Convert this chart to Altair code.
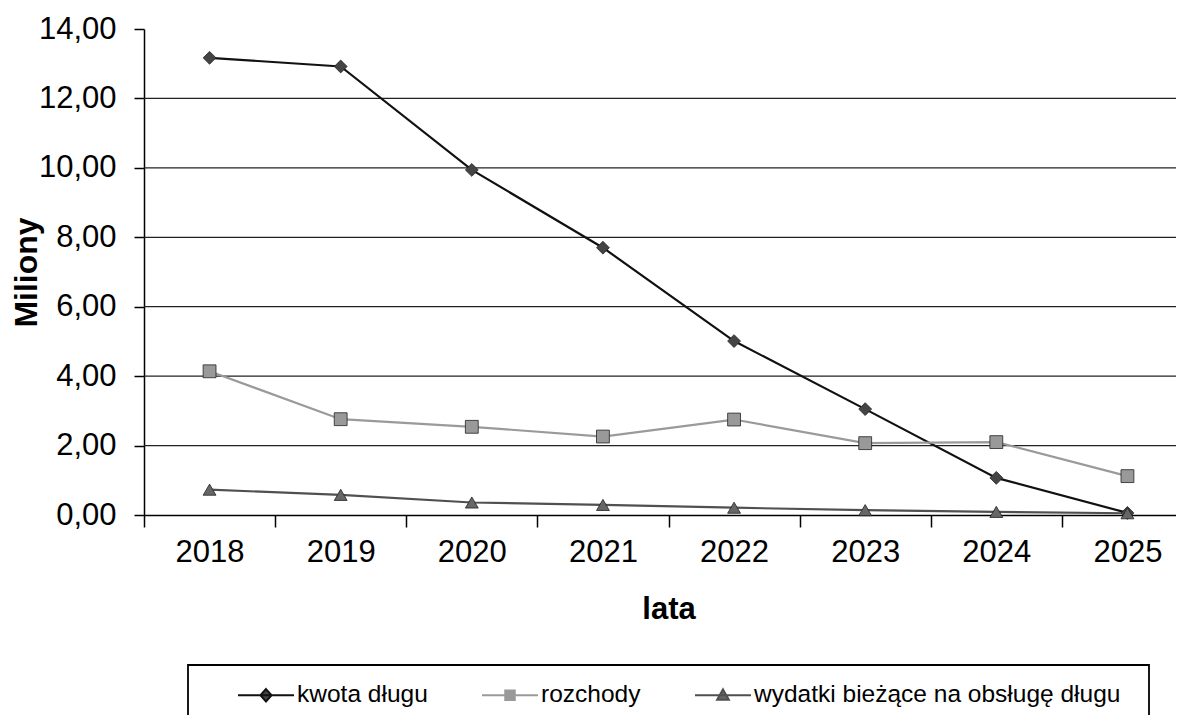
import altair as alt
import pandas as pd

years = ["2018", "2019", "2020", "2021", "2022", "2023", "2024", "2025"]
kwota = [13.17, 12.92, 9.94, 7.70, 5.01, 3.05, 1.07, 0.06]
rozchody = [4.14, 2.76, 2.54, 2.26, 2.75, 2.07, 2.10, 1.12]
wydatki = [0.73, 0.58, 0.36, 0.29, 0.21, 0.14, 0.09, 0.05]
series_names = ["kwota długu", "rozchody", "wydatki bieżące na obsługę długu"]
grid_values = [2, 4, 6, 8, 10, 12]
y_ticks = [0, 2, 4, 6, 8, 10, 12, 14]

line_colors = ["#111111", "#9a9a9a", "#505050"]
marker_fills = ["#444444", "#999999", "#666666"]
marker_shapes = ["diamond", "square", "triangle-up"]
legend_paths = [
    "M-1,0H1M0,-0.22L0.2,0L0,0.22L-0.2,0Z",
    "M-1,0H1M-0.17,-0.17H0.17V0.17H-0.17Z",
    "M-1,0H1M0,-0.21L0.21,0.16H-0.21Z",
]

rows = []
for name, vals in zip(series_names, [kwota, rozchody, wydatki]):
    for yr, v in zip(years, vals):
        rows.append({"year": yr, "series": name, "value": v})
df = pd.DataFrame(rows)
grid_df = pd.DataFrame({"value": grid_values})
frame_df = pd.DataFrame({"k": [0]})

W, H = 1032, 486
FONT = "Liberation Sans"

x_enc = alt.X(
    "year:O",
    bandPosition=0.5,
    scale=alt.Scale(type="band", paddingInner=0, paddingOuter=0, range=[0, 1049]),
    axis=alt.Axis(
        title="lata", tickBand="extent", labelAngle=0, labelFontSize=31,
        labelFont=FONT, labelColor="black", titleFont=FONT, titleFontSize=31,
        titleFontWeight="bold", titleColor="black", titlePadding=27,
        tickSize=12, tickColor="black", domainColor="black", domainWidth=1.5,
        tickWidth=1.5, labelPadding=10, grid=False,
    ),
)
y_scale = alt.Scale(domain=[0, 14], nice=False)
y_axis = alt.Axis(
    title="Miliony", values=y_ticks, grid=False,
    labelExpr="replace(format(datum.value, '.2f'), '.', ',')",
    labelFontSize=31, labelFont=FONT, labelColor="black",
    titleFont=FONT, titleFontSize=32, titleFontWeight="bold",
    titleColor="black", titlePadding=-5, tickSize=10, tickColor="black",
    domainColor="black", domainWidth=1.5, tickWidth=1.5, labelPadding=18,
)
y_enc = alt.Y("value:Q", scale=y_scale, axis=y_axis)

base = alt.Chart(df)

grid = alt.Chart(grid_df).mark_rule(color="#222222", strokeWidth=1.3).encode(
    y=y_enc,
    x=alt.value(0),
    x2=alt.value(1040),
)

series_layers = []
for name, shp, fc, lc in zip(series_names, marker_shapes, marker_fills, line_colors):
    sub = base.transform_filter(alt.datum.series == name)
    series_layers.append(sub.mark_line(strokeWidth=2.2, color=lc).encode(x=x_enc, y=y_enc))
for name, shp, fc, lc in zip(series_names, marker_shapes, marker_fills, line_colors):
    sub = base.transform_filter(alt.datum.series == name)
    series_layers.append(
        sub.mark_point(filled=True, size=165, shape=shp, fill=fc, stroke="#222222",
                       strokeWidth=0.8, opacity=1).encode(x=x_enc, y=y_enc)
    )

leg = alt.Legend(
    title=None, orient="none", legendX=93, legendY=637, direction="horizontal",
    padding=0, labelFont=FONT, zindex=2,
    labelFontSize=24.5, labelColor="black", symbolSize=3136, symbolStrokeWidth=2,
    columnPadding=50, labelOffset=2, labelLimit=600, symbolOpacity=1,
)

legend_layer = base.transform_filter("datum.value < -1000").mark_point(filled=True, opacity=1).encode(
    x=x_enc,
    y=y_enc,
    shape=alt.Shape("series:N", scale=alt.Scale(domain=series_names, range=legend_paths), legend=leg),
    fill=alt.Fill("series:N", scale=alt.Scale(domain=series_names, range=marker_fills), legend=leg),
    stroke=alt.Stroke("series:N", scale=alt.Scale(domain=series_names, range=line_colors), legend=leg),
)

frame = alt.Chart(frame_df).mark_rect(fill="transparent", stroke="black", strokeWidth=1.8).encode(
    x=alt.value(44), x2=alt.value(1005), y=alt.value(636), y2=alt.value(720),
)

chart = (
    alt.layer(grid, frame, *series_layers, legend_layer)
    .properties(width=W, height=H, padding={"left": 136, "top": 21, "right": 0, "bottom": 200},
                autosize=alt.AutoSizeParams(type="none"), background="white")
    .configure_view(stroke=None)
)

chart.save("out.html", embed_options={"renderer": "svg", "actions": False})
